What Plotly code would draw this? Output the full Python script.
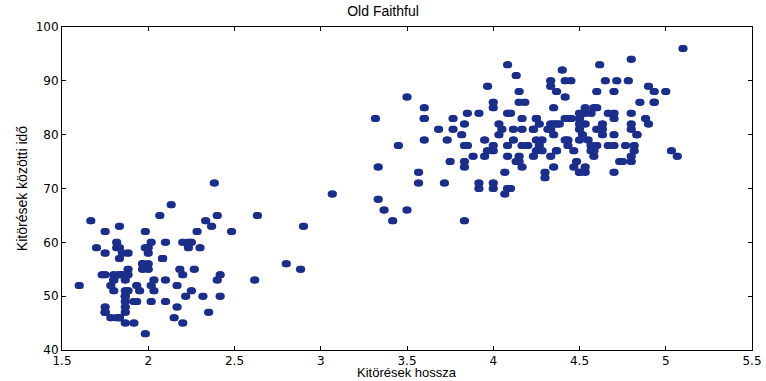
import plotly.graph_objects as go

eruptions = [3.600,1.800,3.333,2.283,4.533,2.883,4.700,3.600,1.950,4.350,1.833,3.917,4.200,1.750,4.700,2.167,1.750,4.800,1.600,4.250,
1.800,1.750,3.450,3.067,4.533,3.600,1.967,4.083,3.850,4.433,4.300,4.467,3.367,4.033,3.833,2.017,1.867,4.833,1.833,4.783,
4.350,1.883,4.567,1.750,4.533,3.317,3.833,2.100,4.633,2.000,4.800,4.716,1.833,4.833,1.733,4.883,3.717,1.667,4.567,4.317,
2.233,4.500,1.750,4.800,1.817,4.400,4.167,4.700,2.067,4.700,4.033,1.967,4.500,4.000,1.983,5.067,2.017,4.567,3.883,3.600,
4.133,4.333,4.100,2.633,4.067,4.933,3.950,4.517,2.167,4.000,2.200,4.333,1.867,4.817,1.833,4.300,4.667,3.750,1.867,4.900,
2.483,4.367,2.100,4.500,4.050,1.867,4.700,1.783,4.850,3.683,4.733,2.300,4.900,4.417,1.700,4.633,2.317,4.600,1.817,4.417,
2.617,4.067,4.250,1.967,4.600,3.767,1.917,4.500,2.267,4.650,1.867,4.167,2.800,4.333,1.833,4.383,1.883,4.933,2.033,3.733,
4.233,2.233,4.533,4.817,4.333,1.983,4.633,2.017,5.100,1.800,5.033,4.000,2.400,4.600,3.567,4.000,4.500,4.083,1.800,3.967,
2.200,4.150,2.000,3.833,3.500,4.583,2.367,5.000,1.933,4.617,1.917,2.083,4.583,3.333,4.167,4.333,4.500,2.417,4.000,4.167,
1.883,4.583,4.250,3.767,2.033,4.433,4.083,1.833,4.417,2.183,4.800,1.833,4.800,4.100,3.966,4.233,3.500,4.366,2.250,4.667,
2.100,4.350,4.133,1.867,4.600,1.783,4.367,3.850,1.933,4.500,2.383,4.700,1.867,3.833,3.417,4.233,2.400,4.800,2.000,4.150,
1.867,4.267,1.750,4.483,4.000,4.117,4.083,4.267,3.917,4.550,4.083,2.417,4.183,2.217,4.450,1.883,1.850,4.283,3.950,2.333,
4.150,2.350,4.933,2.900,4.583,3.833,2.083,4.367,2.133,4.350,2.200,4.450,3.567,4.500,4.150,3.817,3.917,4.450,2.000,4.283,
4.767,4.533,1.850,4.250,1.983,2.250,4.750,4.117,2.150,4.417,1.817,4.467]

waiting = [79,54,74,62,85,55,88,85,51,85,54,84,78,47,83,52,62,84,52,79,
51,47,78,69,74,83,55,76,78,79,73,77,66,80,74,52,48,80,59,90,
80,58,84,58,73,83,64,53,82,59,75,90,54,80,54,83,71,64,77,81,
59,84,48,82,60,92,78,78,65,73,82,56,79,71,62,76,60,78,76,83,
75,82,70,65,73,88,76,80,48,86,60,90,50,78,63,72,84,75,51,82,
62,88,49,83,81,47,84,52,86,81,75,59,89,79,59,81,50,85,59,87,
53,69,77,56,88,81,45,82,55,90,45,83,56,89,46,82,51,86,53,79,
81,60,82,77,76,59,80,49,96,53,77,77,65,81,71,70,81,93,53,89,
45,86,58,78,66,76,63,88,52,93,49,57,77,68,81,81,73,50,85,74,
55,77,83,83,51,78,84,46,83,55,81,57,76,84,77,81,87,77,51,78,
60,82,91,53,78,46,77,84,49,83,71,80,49,75,64,76,53,94,55,76,
50,82,54,75,78,79,78,78,70,79,70,54,86,50,90,54,54,77,79,64,
75,47,86,63,85,82,57,82,67,74,54,83,73,73,88,80,71,83,56,79,
78,84,58,83,43,60,75,81,46,90,46,74]

title_text = "Old Faithful"
x_label = "Kitörések hossza"
y_label = "Kitörések közötti idő"
x_ticks = [1.5, 2, 2.5, 3, 3.5, 4, 4.5, 5, 5.5]
y_ticks = [40, 50, 60, 70, 80, 90, 100]

color = "#1b2e8c"
x_range = [1.5, 5.5]
shift = 0.0065  # ~1.1px horizontal offset to form elliptical marks

fig = go.Figure()
for ax in ("x", "x2", "x3"):
    fig.add_trace(go.Scatter(x=eruptions, y=waiting, mode="markers", xaxis=ax,
                             marker=dict(color=color, size=7, line=dict(width=0)),
                             showlegend=False, hoverinfo="x+y"))

tick_font = dict(family="DejaVu Sans, Arial", size=12, color="black")
axis_common = dict(showgrid=False, zeroline=False, showline=True, mirror="ticks",
                   linecolor="black", linewidth=1, ticks="inside", ticklen=4,
                   tickcolor="black", tickfont=tick_font, automargin=False)

fig.update_layout(
    width=766, height=381,
    margin=dict(l=62, r=14, t=27, b=31),
    plot_bgcolor="white", paper_bgcolor="white",
    title=dict(text=title_text, x=0.5, xanchor="center", y=0.985, yanchor="top",
               font=dict(family="Liberation Sans, Arial", size=14, color="black")),
    xaxis=dict(range=x_range, tickvals=x_ticks, ticktext=[f"{v:g}" for v in x_ticks],
               **axis_common),
    yaxis=dict(range=[40, 100], tickvals=y_ticks, ticktext=[str(v) for v in y_ticks],
               title=dict(text=y_label, standoff=4,
                          font=dict(family="Liberation Sans Narrow, Liberation Sans, Arial", size=14, color="black")),
               **axis_common),
    xaxis2=dict(range=[x_range[0] + shift, x_range[1] + shift], overlaying="x", visible=False),
    xaxis3=dict(range=[x_range[0] - shift, x_range[1] - shift], overlaying="x", visible=False),
    annotations=[dict(text=x_label, xref="paper", yref="paper", x=0.5, y=0,
                      xanchor="center", yanchor="bottom", yshift=-31, showarrow=False,
                      borderpad=0,
                      font=dict(family="Liberation Sans, Arial", size=13, color="black"))],
)

fig.write_html("out.html")
